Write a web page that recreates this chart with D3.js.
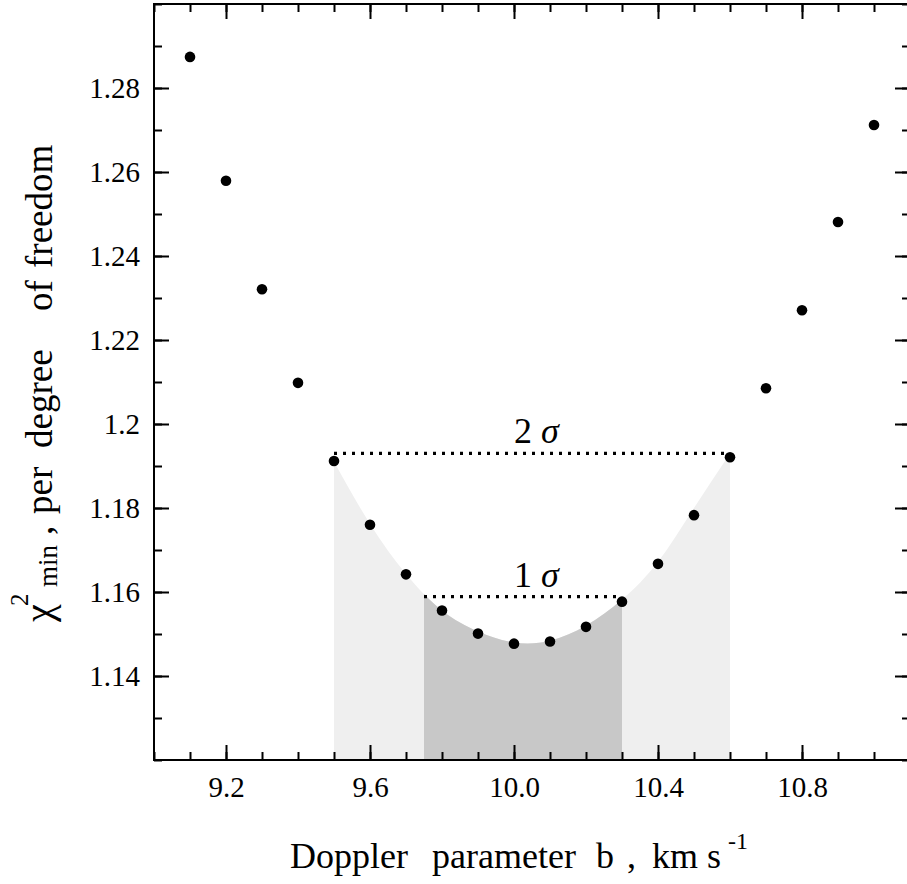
<!DOCTYPE html>
<html>
<head>
<meta charset="utf-8">
<script src="https://cdn.jsdelivr.net/npm/d3@7"></script>
<style>
  body { margin: 0; background: #fff; }
  svg { display: block; font-family: "Liberation Serif", "Times New Roman", serif; }
  text { white-space: pre; font-family: "Liberation Serif", "Times New Roman", serif; }
</style>
</head>
<body>
<svg id="chart" width="907" height="884"></svg>
<script>
// measured points: Doppler b (km/s) vs reduced chi^2
const bValues = [9.1, 9.2, 9.3, 9.4, 9.5, 9.6, 9.7, 9.8, 9.9, 10.0,
                 10.1, 10.2, 10.3, 10.4, 10.5, 10.6, 10.7, 10.8, 10.9, 11.0];
const chiValues = [1.2874, 1.2579, 1.2321, 1.2098, 1.1912, 1.1760, 1.1642, 1.1556, 1.1501, 1.1477,
                   1.1482, 1.1517, 1.1577, 1.1667, 1.1783, 1.1921, 1.2085, 1.2271, 1.2481, 1.2712];

// fitted curve (top of the shaded band)
const fitB = [9.5, 9.6, 9.7, 9.8, 9.9, 10.0, 10.1, 10.2, 10.3, 10.4, 10.5, 10.6];
const fitChi = [1.1910, 1.1762, 1.1643, 1.1556, 1.1506, 1.1480, 1.1484, 1.1520, 1.1582, 1.1672, 1.1800, 1.1930];

// confidence levels
const sigmaNames = ["1", "2"];
const sigmaLevels = [1.1589, 1.1930];
const sigmaFrom = [9.75, 9.5];
const sigmaTo = [10.3, 10.6];

const xTickValues = [9.2, 9.6, 10.0, 10.4, 10.8];
const yTickValues = [1.14, 1.16, 1.18, 1.2, 1.22, 1.24, 1.26, 1.28];

const x = d3.scaleLinear().domain([9.0, 11.1]).range([154, 910]);
const y = d3.scaleLinear().domain([1.12, 1.30]).range([760, 4]);

const svg = d3.select("#chart");

// shaded bands under the fit
const fitData = fitB.map((b, i) => ({ b: b, chi: fitChi[i] }));
const area = d3.area()
  .x(d => x(d.b))
  .y0(y(1.12))
  .y1(d => y(d.chi))
  .curve(d3.curveNatural);

const defs = svg.append("defs");
[[1, "clip2"], [0, "clip1"]].forEach(([i, id]) => {
  defs.append("clipPath").attr("id", id)
    .append("rect")
    .attr("x", x(sigmaFrom[i]))
    .attr("y", y(1.30))
    .attr("width", x(sigmaTo[i]) - x(sigmaFrom[i]))
    .attr("height", y(1.12) - y(1.30));
});

svg.append("path").datum(fitData)
  .attr("d", area)
  .attr("fill", "#efefef")
  .attr("clip-path", "url(#clip2)");

svg.append("path").datum(fitData)
  .attr("d", area)
  .attr("fill", "#c8c8c8")
  .attr("clip-path", "url(#clip1)");

// axes: major ticks with labels, minor ticks without
function styleAxis(g) {
  g.attr("font-family", null).attr("font-size", null);
  g.select(".domain").remove();
  g.selectAll(".tick line").attr("stroke", "#000").attr("stroke-width", 2);
  g.selectAll(".tick text").attr("fill", "#000").style("font-size", "29px");
}

const xMinor = x.ticks(21);
const yMinor = y.ticks(18);

svg.append("g").attr("transform", `translate(0,${y(1.12)})`)
  .call(d3.axisBottom(x).tickValues(xTickValues).tickSize(-15).tickPadding(16).tickFormat(d3.format(".1f")))
  .call(styleAxis);
svg.append("g").attr("transform", `translate(0,${y(1.12)})`)
  .call(d3.axisBottom(x).tickValues(xMinor).tickSize(-8).tickFormat(""))
  .call(styleAxis);
svg.append("g").attr("transform", `translate(0,${y(1.30)})`)
  .call(d3.axisTop(x).tickValues(xTickValues).tickSize(-15).tickFormat(""))
  .call(styleAxis);
svg.append("g").attr("transform", `translate(0,${y(1.30)})`)
  .call(d3.axisTop(x).tickValues(xMinor).tickSize(-8).tickFormat(""))
  .call(styleAxis);

svg.append("g").attr("transform", `translate(${x(9.0)},0)`)
  .call(d3.axisLeft(y).tickValues(yTickValues).tickSize(-15).tickPadding(14).tickFormat(d3.format("~f")))
  .call(styleAxis);
svg.append("g").attr("transform", `translate(${x(9.0)},0)`)
  .call(d3.axisLeft(y).tickValues(yMinor).tickSize(-8).tickFormat(""))
  .call(styleAxis);
svg.append("g").attr("transform", `translate(${x(11.1)},0)`)
  .call(d3.axisRight(y).tickValues(yTickValues).tickSize(-15).tickFormat(""))
  .call(styleAxis);
svg.append("g").attr("transform", `translate(${x(11.1)},0)`)
  .call(d3.axisRight(y).tickValues(yMinor).tickSize(-8).tickFormat(""))
  .call(styleAxis);

// frame
svg.append("rect")
  .attr("x", x(9.0)).attr("y", y(1.30))
  .attr("width", x(11.1) - x(9.0)).attr("height", y(1.12) - y(1.30))
  .attr("fill", "none").attr("stroke", "#000").attr("stroke-width", 2);

// sigma lines and labels
sigmaNames.forEach((name, i) => {
  svg.append("line")
    .attr("x1", x(sigmaFrom[i])).attr("x2", x(sigmaTo[i]))
    .attr("y1", y(sigmaLevels[i])).attr("y2", y(sigmaLevels[i]))
    .attr("stroke", "#000").attr("stroke-width", 3.2)
    .attr("stroke-dasharray", "3,6");

  const t = svg.append("text")
    .attr("x", x(10.0))
    .attr("y", y(sigmaLevels[i]) - 10)
    .style("font-size", "36px");
  t.append("tspan").text(name + " ");
  t.append("tspan").style("font-style", "italic").text("σ");
});

// data points
svg.append("g").selectAll("circle")
  .data(bValues)
  .join("circle")
  .attr("cx", d => x(d))
  .attr("cy", (d, i) => y(chiValues[i]))
  .attr("r", 5.3)
  .attr("fill", "#000");

// axis titles (words placed one by one, as spaced in the original)
const xt = svg.append("text")
  .attr("y", 868)
  .style("font-size", "36px");
xt.append("tspan").attr("x", 290).text("Doppler");
xt.append("tspan").attr("x", 432).text("parameter");
xt.append("tspan").attr("x", 596).text("b");
xt.append("tspan").attr("x", 627).text(",");
xt.append("tspan").attr("x", 652).text("km");
xt.append("tspan").attr("x", 707).text("s");
xt.append("tspan").attr("x", 728).attr("dy", -19).style("font-size", "24px").text("-1");

const yt = svg.append("text")
  .attr("transform", "translate(52,622) rotate(-90)")
  .style("font-size", "37px");
yt.append("tspan").attr("x", 0).style("font-size", "40px").text("χ");
yt.append("tspan").attr("x", 16).attr("dy", -24).style("font-size", "25px").text("2");
yt.append("tspan").attr("x", 35).attr("dy", 29).style("font-size", "27px").text("min");
yt.append("tspan").attr("x", 87).attr("dy", -5).text(",");
yt.append("tspan").attr("x", 108).text("per");
yt.append("tspan").attr("x", 174).text("degree");
yt.append("tspan").attr("x", 311).text("of");
yt.append("tspan").attr("x", 354).text("freedom");
</script>
</body>
</html>
